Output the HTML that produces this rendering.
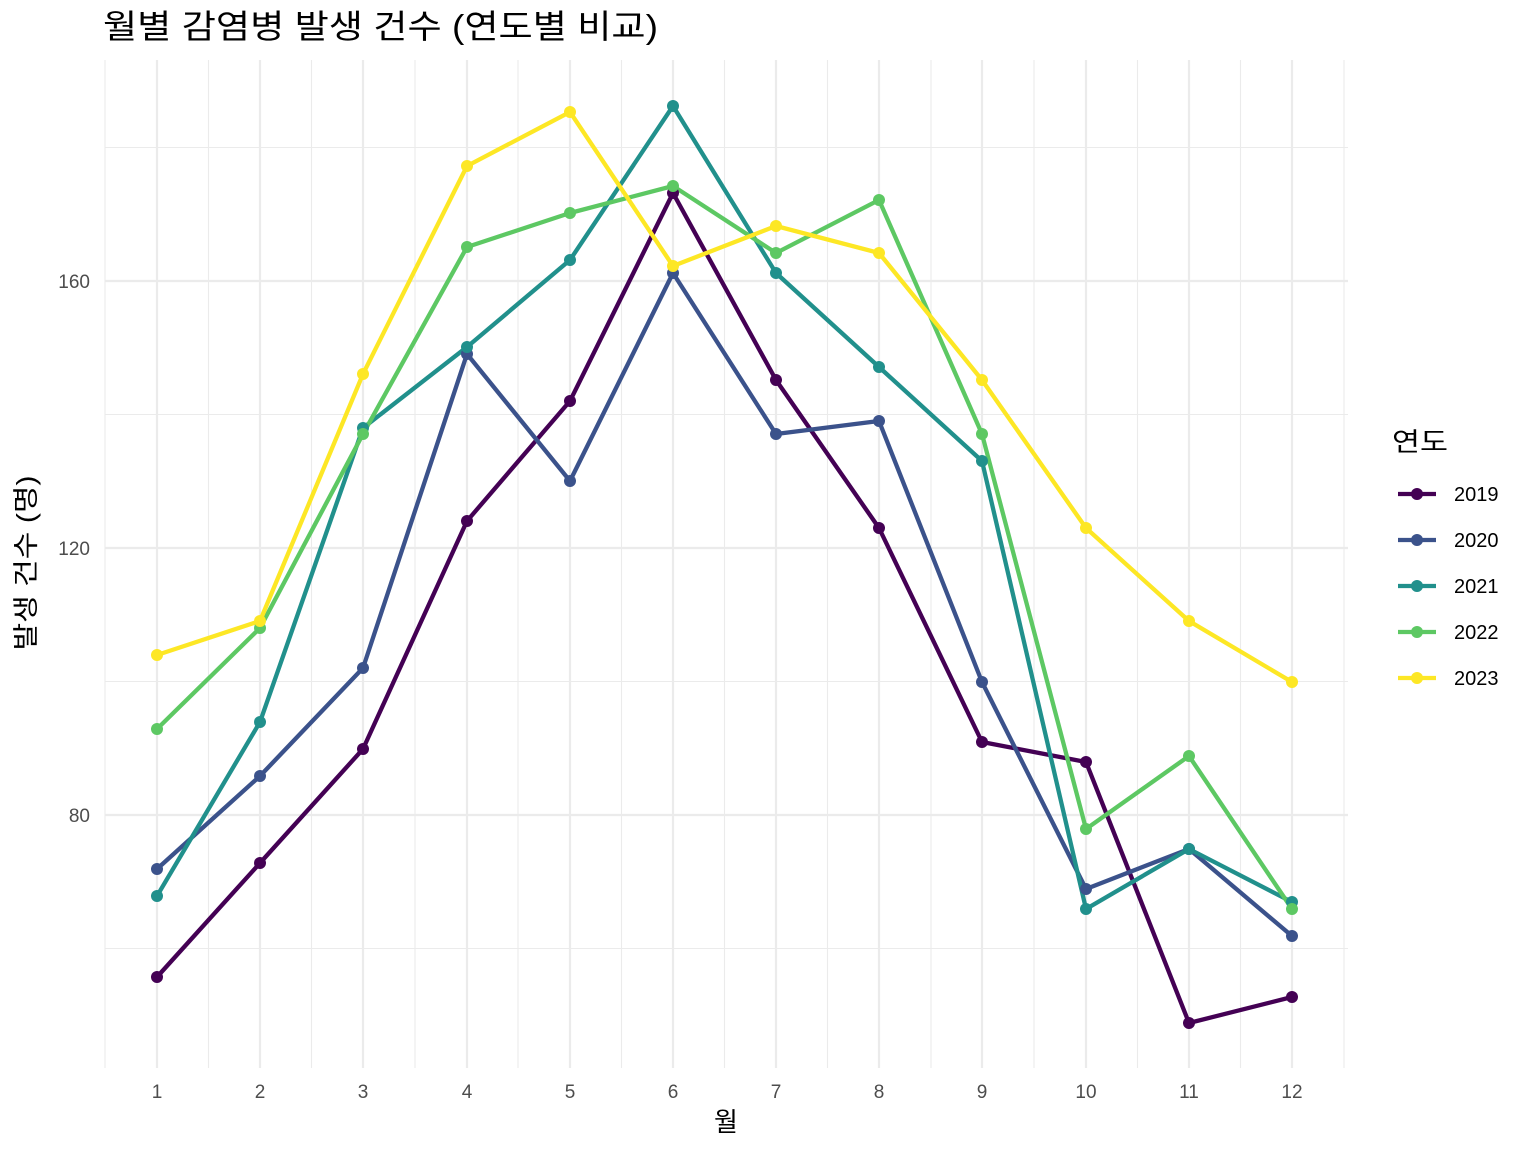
<!DOCTYPE html>
<html><head><meta charset="utf-8"><style>
body{margin:0;background:#fff}
svg{display:block;font-family:"Liberation Sans","Noto Sans CJK KR",sans-serif}
</style></head><body>
<svg width="1536" height="1152" viewBox="0 0 1536 1152">
<rect width="1536" height="1152" fill="#fff"/>
<g stroke="#ebebeb" stroke-width="1.1">
<line x1="105" x2="1348" y1="948.5" y2="948.5"/><line x1="105" x2="1348" y1="681.5" y2="681.5"/><line x1="105" x2="1348" y1="414.5" y2="414.5"/><line x1="105" x2="1348" y1="147.5" y2="147.5"/>
<line y1="60" y2="1068" x1="105" x2="105"/><line y1="60" y2="1068" x1="208.5" x2="208.5"/><line y1="60" y2="1068" x1="311.5" x2="311.5"/><line y1="60" y2="1068" x1="415" x2="415"/><line y1="60" y2="1068" x1="518" x2="518"/><line y1="60" y2="1068" x1="621.5" x2="621.5"/><line y1="60" y2="1068" x1="724.5" x2="724.5"/><line y1="60" y2="1068" x1="827.5" x2="827.5"/><line y1="60" y2="1068" x1="931" x2="931"/><line y1="60" y2="1068" x1="1034" x2="1034"/><line y1="60" y2="1068" x1="1137.5" x2="1137.5"/><line y1="60" y2="1068" x1="1240.5" x2="1240.5"/><line y1="60" y2="1068" x1="1344" x2="1344"/>
</g>
<g stroke="#ebebeb" stroke-width="2.2">
<line x1="105" x2="1348" y1="815" y2="815"/><line x1="105" x2="1348" y1="548" y2="548"/><line x1="105" x2="1348" y1="281" y2="281"/>
<line y1="60" y2="1068" x1="157" x2="157"/><line y1="60" y2="1068" x1="260" x2="260"/><line y1="60" y2="1068" x1="363" x2="363"/><line y1="60" y2="1068" x1="467" x2="467"/><line y1="60" y2="1068" x1="570" x2="570"/><line y1="60" y2="1068" x1="673" x2="673"/><line y1="60" y2="1068" x1="776" x2="776"/><line y1="60" y2="1068" x1="879" x2="879"/><line y1="60" y2="1068" x1="982" x2="982"/><line y1="60" y2="1068" x1="1086" x2="1086"/><line y1="60" y2="1068" x1="1189" x2="1189"/><line y1="60" y2="1068" x1="1292" x2="1292"/>
</g>
<g fill="none" stroke-width="4.3" stroke-linejoin="round">
<polyline stroke="#440154" points="157,977 260,863 363,749 467,521 570,401 673,193 776,380 879,528 982,742 1086,762 1189,1023 1292,997"/>
<polyline stroke="#3B528B" points="157,869 260,776 363,668 467,354 570,481 673,273 776,434 879,421 982,682 1086,889 1189,849 1292,936"/>
<polyline stroke="#21908C" points="157,896 260,722 363,428 467,347 570,260 673,106 776,273 879,367 982,461 1086,909 1189,849 1292,902"/>
<polyline stroke="#5DC863" points="157,729 260,628 363,434 467,247 570,213 673,186 776,253 879,200 982,434 1086,829 1189,756 1292,909"/>
<polyline stroke="#FDE725" points="157,655 260,621 363,374 467,166 570,112 673,266 776,226 879,253 982,380 1086,528 1189,621 1292,682"/>
</g>
<g fill="#440154"><circle cx="157" cy="977" r="6"/><circle cx="260" cy="863" r="6"/><circle cx="363" cy="749" r="6"/><circle cx="467" cy="521" r="6"/><circle cx="570" cy="401" r="6"/><circle cx="673" cy="193" r="6"/><circle cx="776" cy="380" r="6"/><circle cx="879" cy="528" r="6"/><circle cx="982" cy="742" r="6"/><circle cx="1086" cy="762" r="6"/><circle cx="1189" cy="1023" r="6"/><circle cx="1292" cy="997" r="6"/></g>
<g fill="#3B528B"><circle cx="157" cy="869" r="6"/><circle cx="260" cy="776" r="6"/><circle cx="363" cy="668" r="6"/><circle cx="467" cy="354" r="6"/><circle cx="570" cy="481" r="6"/><circle cx="673" cy="273" r="6"/><circle cx="776" cy="434" r="6"/><circle cx="879" cy="421" r="6"/><circle cx="982" cy="682" r="6"/><circle cx="1086" cy="889" r="6"/><circle cx="1189" cy="849" r="6"/><circle cx="1292" cy="936" r="6"/></g>
<g fill="#21908C"><circle cx="157" cy="896" r="6"/><circle cx="260" cy="722" r="6"/><circle cx="363" cy="428" r="6"/><circle cx="467" cy="347" r="6"/><circle cx="570" cy="260" r="6"/><circle cx="673" cy="106" r="6"/><circle cx="776" cy="273" r="6"/><circle cx="879" cy="367" r="6"/><circle cx="982" cy="461" r="6"/><circle cx="1086" cy="909" r="6"/><circle cx="1189" cy="849" r="6"/><circle cx="1292" cy="902" r="6"/></g>
<g fill="#5DC863"><circle cx="157" cy="729" r="6"/><circle cx="260" cy="628" r="6"/><circle cx="363" cy="434" r="6"/><circle cx="467" cy="247" r="6"/><circle cx="570" cy="213" r="6"/><circle cx="673" cy="186" r="6"/><circle cx="776" cy="253" r="6"/><circle cx="879" cy="200" r="6"/><circle cx="982" cy="434" r="6"/><circle cx="1086" cy="829" r="6"/><circle cx="1189" cy="756" r="6"/><circle cx="1292" cy="909" r="6"/></g>
<g fill="#FDE725"><circle cx="157" cy="655" r="6"/><circle cx="260" cy="621" r="6"/><circle cx="363" cy="374" r="6"/><circle cx="467" cy="166" r="6"/><circle cx="570" cy="112" r="6"/><circle cx="673" cy="266" r="6"/><circle cx="776" cy="226" r="6"/><circle cx="879" cy="253" r="6"/><circle cx="982" cy="380" r="6"/><circle cx="1086" cy="528" r="6"/><circle cx="1189" cy="621" r="6"/><circle cx="1292" cy="682" r="6"/></g>
<g fill="#4d4d4d" font-size="19" text-anchor="end">
<text x="90" y="822">80</text><text x="90" y="555">120</text><text x="90" y="288">160</text>
</g>
<g fill="#4d4d4d" font-size="19" text-anchor="middle">
<text x="157" y="1098">1</text><text x="260" y="1098">2</text><text x="363" y="1098">3</text><text x="467" y="1098">4</text><text x="570" y="1098">5</text><text x="673" y="1098">6</text><text x="776" y="1098">7</text><text x="879" y="1098">8</text><text x="982" y="1098">9</text><text x="1086" y="1098">10</text><text x="1189" y="1098">11</text><text x="1292" y="1098">12</text>
</g>
<text x="726" y="1131" font-size="26" text-anchor="middle" fill="#000">월</text>
<text transform="translate(35,563) rotate(-90)" font-size="26" text-anchor="middle" fill="#000" textLength="175" lengthAdjust="spacingAndGlyphs">발생 건수 (명)</text>
<text x="103" y="38" font-size="33" fill="#000" textLength="555" lengthAdjust="spacingAndGlyphs">월별 감염병 발생 건수 (연도별 비교)</text>
<text x="1392" y="451" font-size="26" fill="#000" textLength="56" lengthAdjust="spacingAndGlyphs">연도</text>
<g stroke-width="4.3">
<line x1="1398" x2="1436" y1="494" y2="494" stroke="#440154"/><line x1="1398" x2="1436" y1="540" y2="540" stroke="#3B528B"/><line x1="1398" x2="1436" y1="586" y2="586" stroke="#21908C"/><line x1="1398" x2="1436" y1="632" y2="632" stroke="#5DC863"/><line x1="1398" x2="1436" y1="678" y2="678" stroke="#FDE725"/>
</g>
<circle cx="1417" cy="494" r="6" fill="#440154"/><circle cx="1417" cy="540" r="6" fill="#3B528B"/><circle cx="1417" cy="586" r="6" fill="#21908C"/><circle cx="1417" cy="632" r="6" fill="#5DC863"/><circle cx="1417" cy="678" r="6" fill="#FDE725"/>
<g font-size="20" fill="#000">
<text x="1454" y="501">2019</text><text x="1454" y="547">2020</text><text x="1454" y="593">2021</text><text x="1454" y="639">2022</text><text x="1454" y="685">2023</text>
</g>
</svg>
</body></html>
